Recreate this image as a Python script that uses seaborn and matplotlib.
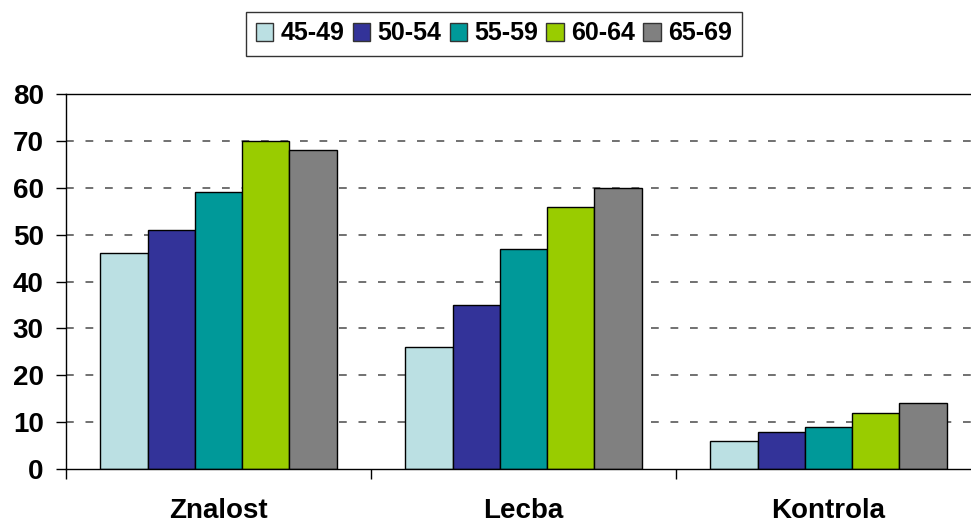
import matplotlib
matplotlib.use("Agg")
import matplotlib.pyplot as plt
from matplotlib.patches import Patch
from matplotlib.ticker import FixedLocator, NullFormatter
import seaborn as sns
import pandas as pd

categories = ["Znalost", "Lecba", "Kontrola"]
age_groups = ["45-49", "50-54", "55-59", "60-64", "65-69"]
values_45_49 = [46, 26, 6]
values_50_54 = [51, 35, 8]
values_55_59 = [59, 47, 9]
values_60_64 = [70, 56, 12]
values_65_69 = [68, 60, 14]
colors = ["#BBE0E3", "#333399", "#009999", "#99CC00", "#808080"]
y_ticks = [0, 10, 20, 30, 40, 50, 60, 70, 80]

series = [values_45_49, values_50_54, values_55_59, values_60_64, values_65_69]
rows = []
for grp, vals in zip(age_groups, series):
    for cat, v in zip(categories, vals):
        rows.append({"cat": cat, "grp": grp, "val": v})
df = pd.DataFrame(rows)

sns.set_style("white")
plt.rcParams["font.family"] = ["Liberation Sans", "DejaVu Sans"]
plt.rcParams["font.weight"] = "bold"
plt.rcParams["text.color"] = "black"
plt.rcParams["xtick.color"] = "black"
plt.rcParams["ytick.color"] = "black"

fig = plt.figure(figsize=(9.71, 5.28), dpi=100)
ax = fig.add_axes([66 / 971, 1 - 469 / 528, 915 / 971, 375 / 528])

sns.barplot(data=df, x="cat", y="val", hue="grp", order=categories,
            hue_order=age_groups, palette=colors, width=0.775,
            edgecolor="black", linewidth=1.0, saturation=1, ax=ax,
            legend=False)

ax.set_ylim(0, 80)
ax.set_xlim(-0.5, 2.5)
ax.set_yticks(y_ticks)
ax.set_yticklabels([str(t) for t in y_ticks], fontsize=20, fontweight="bold",
                   color="black")
for t in y_ticks[1:-1]:
    ax.axhline(t, color="#666666", linestyle=(0, (4.3, 6.5)), linewidth=1.3, zorder=0)

ax.set_xticks(range(len(categories)))
ax.set_xticklabels(categories, fontsize=20, fontweight="bold", color="black")
ax.tick_params(axis="x", which="major", length=0, pad=21)
ax.xaxis.set_minor_locator(FixedLocator([-0.5, 0.5, 1.5, 2.5]))
ax.xaxis.set_minor_formatter(NullFormatter())
ax.tick_params(axis="x", which="minor", length=7, width=1, color="black",
               direction="out", bottom=True)
ax.tick_params(axis="y", length=7, width=1, color="black", direction="out",
               left=True, pad=9)

ax.set_xlabel("")
ax.set_ylabel("")
for s in ["left", "bottom", "top", "right"]:
    ax.spines[s].set_color("black")
    ax.spines[s].set_linewidth(1.0)

handles = [Patch(facecolor=c, edgecolor="#333333", linewidth=1.0) for c in colors]
leg = fig.legend(handles, age_groups, loc="center", bbox_to_anchor=(494 / 971, 1 - 33.5 / 528),
                 ncol=5, frameon=True, fancybox=False, edgecolor="black",
                 prop={"size": 18, "weight": "bold"}, handlelength=0.7,
                 handleheight=0.7, handletextpad=0.3, columnspacing=0.32,
                 borderpad=0.4, borderaxespad=0)
leg.get_frame().set_linewidth(1.0)

fig.savefig("out.png", dpi=100)
